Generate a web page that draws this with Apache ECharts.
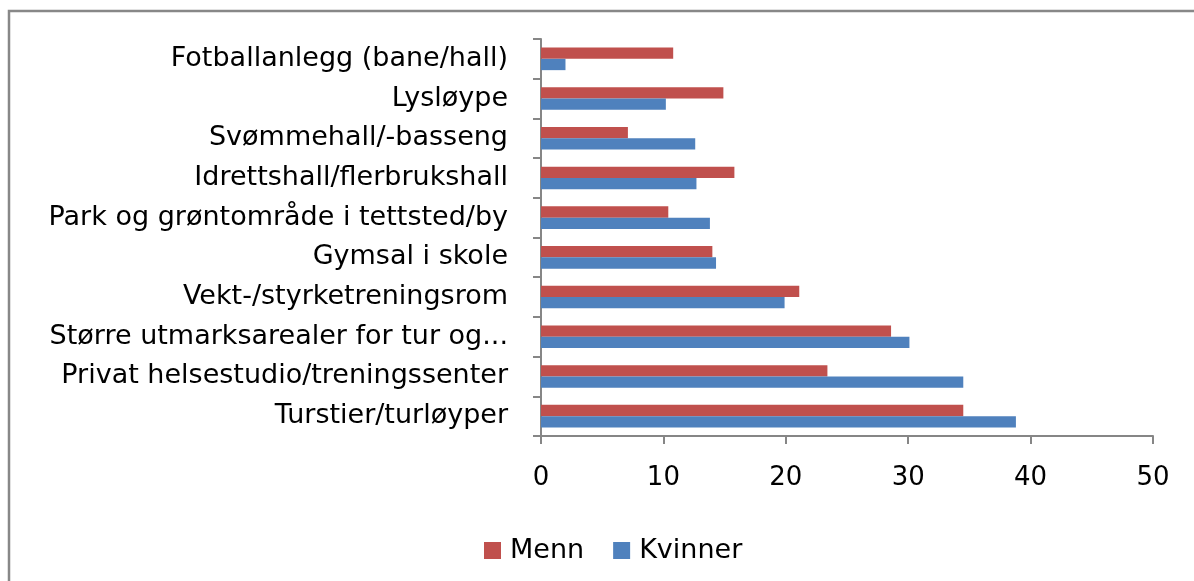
<!DOCTYPE html>
<html>
<head>
<meta charset="utf-8">
<script src="https://cdn.jsdelivr.net/npm/echarts@6/dist/echarts.min.js"></script>
<style>
  html, body { margin: 0; padding: 0; background: #fff; }
  #bar1 { width: 1194px; height: 581px; }
</style>
</head>
<body>
<div id="bar1"></div>
<script>
// kategorier, nedenfra og opp (kategoriakse i echarts starter nederst)
var kategorier = ['Turstier/turløyper', 'Privat helsestudio/treningssenter', 'Større utmarksarealer for tur og...',
                  'Vekt-/styrketreningsrom', 'Gymsal i skole', 'Park og grøntområde i tettsted/by',
                  'Idrettshall/flerbrukshall', 'Svømmehall/-basseng', 'Lysløype', 'Fotballanlegg (bane/hall)'];
var menn    = [34.5, 23.4, 28.6, 21.1, 14.0, 10.4, 15.8, 7.1, 14.9, 10.8];
var kvinner = [38.8, 34.5, 30.1, 19.9, 14.3, 13.8, 12.7, 12.6, 10.2, 2.0];
var xTicks  = [0, 10, 20, 30, 40, 50];

var myChart1 = echarts.init(document.getElementById('bar1'));

var fontFam = 'DejaVu Sans';
var axisGrey = '#868686';

var option1 = {
    animation: false,
    graphic: [{
        type: 'rect',
        shape: { x: 9, y: 11, width: 1200, height: 600 },
        style: { fill: 'none', stroke: '#888', lineWidth: 2.5 }
    }],
    legend: {
        data: ['Menn', 'Kvinner'],
        left: 484,
        top: 537,
        padding: 0,
        itemWidth: 17,
        itemHeight: 17,
        itemGap: 29,
        icon: 'rect',
        textStyle: { fontFamily: fontFam, fontSize: 27, color: '#000', padding: [0, 0, 0, 4] }
    },
    grid: {
        left: 541,
        right: 41,
        top: 39,
        bottom: 145,
        outerBoundsMode: 'none'
    },
    xAxis: {
        type: 'value',
        min: xTicks[0],
        max: xTicks[xTicks.length - 1],
        interval: 10,
        axisLine: { show: true, lineStyle: { color: axisGrey, width: 2 } },
        axisTick: { show: true, length: 8, lineStyle: { color: axisGrey, width: 2 } },
        splitLine: { show: false },
        axisLabel: {
            margin: 29,
            fontFamily: fontFam,
            fontSize: 26,
            color: '#000'
        }
    },
    yAxis: {
        type: 'category',
        data: kategorier,
        axisLine: { show: true, lineStyle: { color: axisGrey, width: 2 } },
        axisTick: { show: true, length: 8, lineStyle: { color: axisGrey, width: 2 } },
        axisLabel: {
            margin: 33,
            fontFamily: fontFam,
            fontSize: 27,
            color: '#000',
            interval: 0
        }
    },
    series: [
        {
            name: 'Menn',
            type: 'bar',
            data: menn,
            barWidth: 11.3,
            barGap: '0%',
            itemStyle: { color: '#C0504D' }
        },
        {
            name: 'Kvinner',
            type: 'bar',
            data: kvinner,
            barWidth: 11.3,
            barGap: '0%',
            itemStyle: { color: '#4F81BD' }
        }
    ]
};

myChart1.setOption(option1);
</script>
</body>
</html>
